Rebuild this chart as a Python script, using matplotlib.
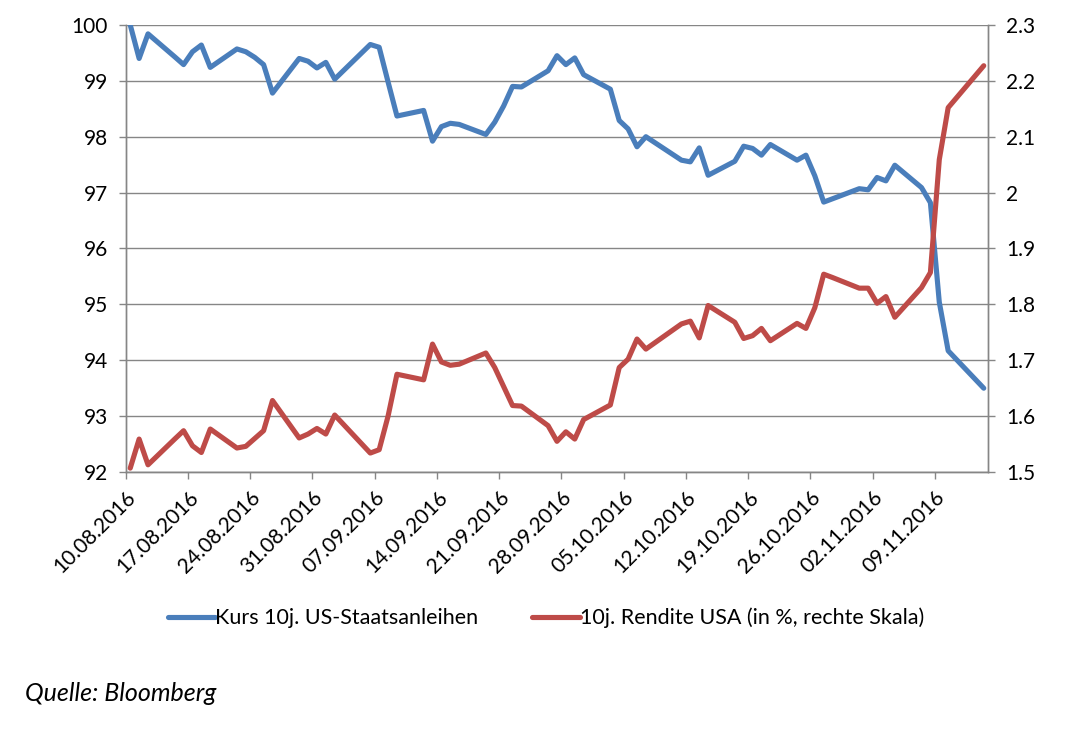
import matplotlib
matplotlib.use("Agg")
import matplotlib.pyplot as plt
import pandas as pd
from matplotlib.ticker import FuncFormatter

# Handelstage (Datum, dd.mm.yyyy)
dates = [
    "10.08.2016", "11.08.2016", "12.08.2016", "15.08.2016", "16.08.2016", "17.08.2016",
    "18.08.2016", "19.08.2016", "22.08.2016", "23.08.2016", "24.08.2016", "25.08.2016",
    "26.08.2016", "29.08.2016", "30.08.2016", "31.08.2016",
    "01.09.2016", "02.09.2016", "06.09.2016", "07.09.2016", "08.09.2016", "09.09.2016",
    "12.09.2016", "13.09.2016", "14.09.2016", "15.09.2016", "16.09.2016", "19.09.2016",
    "20.09.2016", "21.09.2016", "22.09.2016", "23.09.2016", "26.09.2016", "27.09.2016",
    "28.09.2016", "29.09.2016", "30.09.2016",
    "03.10.2016", "04.10.2016", "05.10.2016", "06.10.2016", "07.10.2016", "11.10.2016",
    "12.10.2016", "13.10.2016", "14.10.2016", "17.10.2016", "18.10.2016", "19.10.2016",
    "20.10.2016", "21.10.2016", "24.10.2016", "25.10.2016", "26.10.2016", "27.10.2016",
    "28.10.2016", "31.10.2016",
    "01.11.2016", "02.11.2016", "03.11.2016", "04.11.2016", "07.11.2016", "08.11.2016",
    "09.11.2016", "10.11.2016", "14.11.2016",
]

# Kurs 10j. US-Staatsanleihen (linke Skala)
kurs = [
    100.00, 99.40, 99.84, 99.43, 99.29, 99.52, 99.64, 99.24, 99.57, 99.52, 99.42, 99.29,
    98.78, 99.40, 99.35, 99.23,
    99.33, 99.03, 99.65, 99.60, 98.98, 98.37, 98.47, 97.92, 98.18, 98.24, 98.22, 98.04,
    98.26, 98.55, 98.90, 98.89, 99.18, 99.45, 99.29, 99.41, 99.11,
    98.85, 98.29, 98.14, 97.82, 98.00, 97.58, 97.55, 97.80, 97.31, 97.56, 97.83, 97.79,
    97.67, 97.86, 97.58, 97.67, 97.30, 96.83, 96.89, 97.07,
    97.05, 97.27, 97.21, 97.49, 97.09, 96.82, 95.04, 94.17, 93.50,
]

# 10j. Rendite USA in % (rechte Skala)
rendite = [
    1.507, 1.559, 1.513, 1.559, 1.574, 1.547, 1.535, 1.577, 1.543, 1.546, 1.560, 1.574,
    1.628, 1.561, 1.568, 1.578,
    1.568, 1.602, 1.534, 1.540, 1.600, 1.675, 1.665, 1.729, 1.697, 1.691, 1.693, 1.713,
    1.687, 1.653, 1.619, 1.618, 1.583, 1.555, 1.572, 1.559, 1.594,
    1.620, 1.687, 1.702, 1.738, 1.720, 1.765, 1.770, 1.740, 1.798, 1.768, 1.739, 1.744,
    1.757, 1.735, 1.766, 1.757, 1.794, 1.854, 1.848, 1.829,
    1.829, 1.802, 1.814, 1.777, 1.830, 1.857, 2.059, 2.152, 2.227,
]

tick_labels = ["10.08.2016", "17.08.2016", "24.08.2016", "31.08.2016", "07.09.2016",
               "14.09.2016", "21.09.2016", "28.09.2016", "05.10.2016", "12.10.2016",
               "19.10.2016", "26.10.2016", "02.11.2016", "09.11.2016"]

plt.rcParams['font.family'] = ['Lato', 'DejaVu Sans']

# Excel-Datumsachse: Punkte in der Tagesmitte
x = pd.to_datetime(dates, format="%d.%m.%Y") + pd.Timedelta(hours=12)
ticks = pd.to_datetime(tick_labels, format="%d.%m.%Y")

blau = "#4A7EBB"
rot = "#BE4B48"
grau = "#868686"

fig = plt.figure(figsize=(10.66, 7.33), dpi=100)
ax = fig.add_axes([0.118, 0.356, 0.809, 0.61])
ax2 = ax.twinx()

l1, = ax.plot(x, kurs, color=blau, lw=3.7, solid_joinstyle="round", solid_capstyle="round",
              label="Kurs 10j. US-Staatsanleihen", zorder=3)
l2, = ax2.plot(x, rendite, color=rot, lw=3.7, solid_joinstyle="round", solid_capstyle="round",
               label="10j. Rendite USA (in %, rechte Skala)", zorder=3)

ax.set_ylim(92, 100)
ax2.set_ylim(1.5, 2.3)
ax.set_yticks(range(92, 101))
ax2.set_yticks([1.5 + 0.1 * i for i in range(9)])
ax2.yaxis.set_major_formatter(FuncFormatter(lambda v, p: f"{v:g}"))

ax.set_xlim(pd.Timestamp("2016-08-10"), pd.Timestamp("2016-11-15"))
ax.set_xticks(ticks)
ax.set_xticklabels(tick_labels, rotation=45, ha="right", rotation_mode="anchor")

ax.grid(axis="y", color=grau, lw=1)
ax.set_axisbelow(True)

for a in (ax, ax2):
    a.spines["top"].set_visible(False)
    for s in ("left", "right", "bottom"):
        a.spines[s].set_color(grau)
        a.spines[s].set_linewidth(1)
    a.tick_params(colors=grau, labelcolor="black", labelsize=15, width=1, length=5)
ax.tick_params(axis="x", pad=6)
ax.tick_params(axis="y", pad=8)
ax2.tick_params(axis="y", pad=8)

fig.legend(handles=[l1, l2], loc="center", bbox_to_anchor=(0.512, 0.157), ncol=2,
           frameon=False, fontsize=15.5, handlelength=2.2, handletextpad=0.0, columnspacing=2.5)

fig.text(0.023, 0.054, "Quelle: Bloomberg", fontsize=18, style="italic", va="center")

fig.savefig("out.png", dpi=100)
